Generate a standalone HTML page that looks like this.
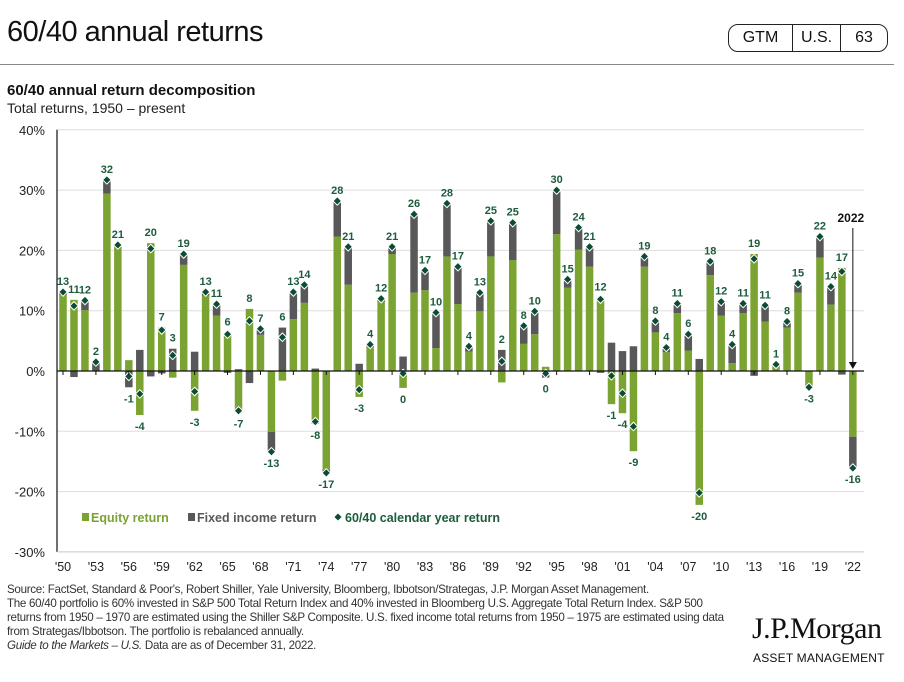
<!DOCTYPE html>
<html><head><meta charset="utf-8"><style>
body{margin:0;width:904px;height:682px;background:#fff;font-family:"Liberation Sans",sans-serif;position:relative;overflow:hidden}
.abs{position:absolute}
</style></head><body>
<div class="abs" style="left:7px;top:16px;font-size:29px;color:#111;letter-spacing:-0.5px">60/40 annual returns</div>
<div class="abs" style="left:728px;top:24px;width:158px;height:26px;border:1px solid #222;border-radius:10px;display:flex;font-size:16px;color:#111">
<div style="width:63px;text-align:center;line-height:26px;border-right:1px solid #222">GTM</div>
<div style="width:47px;text-align:center;line-height:26px;border-right:1px solid #222">U.S.</div>
<div style="flex:1;text-align:center;line-height:26px">63</div></div>
<div class="abs" style="left:0;top:64px;width:894px;height:1px;background:#888"></div>
<div class="abs" style="left:7px;top:82px;font-size:15px;font-weight:bold;color:#111">60/40 annual return decomposition</div>
<div class="abs" style="left:7px;top:100px;font-size:14px;color:#222">Total returns, 1950 – present</div>
<svg class="abs" style="left:0;top:0" width="904" height="682" id="chart"></svg>
<div class="abs" style="left:7px;top:583px;font-size:11.6px;line-height:14px;color:#333;letter-spacing:-0.3px;width:780px;white-space:nowrap">
Source: FactSet, Standard &amp; Poor's, Robert Shiller, Yale University, Bloomberg, Ibbotson/Strategas, J.P. Morgan Asset Management.<br>
The 60/40 portfolio is 60% invested in S&amp;P 500 Total Return Index and 40% invested in Bloomberg U.S. Aggregate Total Return Index. S&amp;P 500<br>
returns from 1950 – 1970 are estimated using the Shiller S&amp;P Composite. U.S. fixed income total returns from 1950 – 1975 are estimated using data<br>
from Strategas/Ibbotson. The portfolio is rebalanced annually.<br>
<i>Guide to the Markets – U.S.</i> Data are as of December 31, 2022.</div>
<div class="abs" style="left:752px;top:612px;font-family:'Liberation Serif',serif;font-size:30px;color:#111;letter-spacing:-0.5px">J.P.Morgan</div>
<div class="abs" style="left:753px;top:651px;font-size:12px;color:#111;letter-spacing:0.2px">ASSET MANAGEMENT</div>
<script>
const years=[1950,1951,1952,1953,1954,1955,1956,1957,1958,1959,1960,1961,1962,1963,1964,1965,1966,1967,1968,1969,1970,1971,1972,1973,1974,1975,1976,1977,1978,1979,1980,1981,1982,1983,1984,1985,1986,1987,1988,1989,1990,1991,1992,1993,1994,1995,1996,1997,1998,1999,2000,2001,2002,2003,2004,2005,2006,2007,2008,2009,2010,2011,2012,2013,2014,2015,2016,2017,2018,2019,2020,2021,2022];
const equity=[12.6,11.8,10.1,0,29.4,20.9,1.8,-7.3,21.2,7.2,-1.1,17.6,-6.6,12.5,9.2,6.4,-6.9,10.3,6.0,-10.1,-1.6,8.6,11.3,-8.8,-16.4,22.3,14.3,-4.3,4.0,11.5,19.4,-2.8,13.0,13.4,3.8,19.0,11.1,3.2,9.9,19.0,-1.9,18.4,4.5,6.1,0.7,22.7,13.8,20.1,17.3,12.2,-5.5,-7.0,-13.3,17.3,6.4,3.1,9.6,3.4,-22.2,15.9,9.2,1.3,9.6,19.4,8.2,0.9,7.2,13.0,-2.7,18.8,11.0,17.1,-10.9];
const fixedIncome=[0.5,-1.0,1.6,1.5,2.3,0,-2.7,3.5,-0.9,-0.4,3.7,1.8,3.2,0.6,1.9,-0.3,0.3,-2.0,1.0,-3.3,7.2,4.5,3.0,0.4,-0.5,5.9,6.3,1.2,0.4,0.5,1.2,2.4,13.0,3.3,5.9,8.8,6.2,0.9,3.1,5.9,3.5,6.2,3.0,3.8,-1.1,7.3,1.4,3.7,3.3,-0.3,4.7,3.3,4.1,1.7,1.9,0.8,1.6,2.7,2.0,2.3,2.3,3.1,1.6,-0.8,2.7,0.2,1.0,1.5,0.0,3.5,3.0,-0.6,-5.2];
const yTicks=[40,30,20,10,0,-10,-20,-30];
const xTickLabels=["'50","'53","'56","'59","'62","'65","'68","'71","'74","'77","'80","'83","'86","'89","'92","'95","'98","'01","'04","'07","'10","'13","'16","'19","'22"];
const NS="http://www.w3.org/2000/svg";
const svg=document.getElementById('chart');
const y0=371,pxPer=6.03,xL=57,xR=864;
const yS=v=>y0-v*pxPer;
const xS=yr=>63+(yr-1950)*10.97;
function mk(t,a,p){const e=document.createElementNS(NS,t);for(const k in a)e.setAttribute(k,a[k]);(p||svg).appendChild(e);return e;}
yTicks.forEach(t=>{
 if(t!==0){const g=mk('line',{x1:xL,x2:xR,y1:yS(t),y2:yS(t),stroke:'#ddd','stroke-width':1});
 
 }
 const l=mk('text',{x:45,y:yS(t)+5,'text-anchor':'end','font-size':13,fill:'#222'});
 l.textContent=t+'%';
 
 
});
years.forEach((yr,i)=>{
 const x=xS(yr),w=7.5,e=equity[i],f=fixedIncome[i];
 let pos=0,neg=0;
 [[e,'#7aa332','equity-bar'],[f,'#58585a','fixed-income-bar']].forEach(([v,c,n])=>{
  if(v===0)return;
  let top,h;
  if(v>0){top=yS(pos+v);h=v*pxPer;pos+=v;}else{top=yS(neg);h=-v*pxPer;neg+=v;}
  const r=mk('rect',{x:x-w/2,y:top,width:w,height:h,fill:c});
  
  
 });
 const tot=e+f;
 const d=mk('rect',{x:x-3,y:yS(tot)-3,width:6,height:6,fill:'#0b4d34',stroke:'#fff','stroke-width':1,transform:`rotate(45 ${x} ${yS(tot)})`});
 
 
 const lbl=mk('text',{x:x,'text-anchor':'middle','font-size':11,'font-weight':'bold',fill:'#1d5c3c'});
 lbl.setAttribute('y',tot>=0?yS(pos)-7:yS(neg)+15);
 lbl.textContent=String(Math.round(tot));
 
 
});
const zl=mk('line',{x1:xL,x2:xR,y1:y0,y2:y0,stroke:'#111','stroke-width':1.2});


const ax=mk('line',{x1:xL,x2:xL,y1:yS(40),y2:yS(-30),stroke:'#111','stroke-width':1.2});


const bx=mk('line',{x1:xL,x2:xR,y1:yS(-30),y2:yS(-30),stroke:'#ccc','stroke-width':1});


xTickLabels.forEach((t,i)=>{
 const x=xS(1950+i*3);
 const tk=mk('line',{x1:x,x2:x,y1:y0,y2:y0+4,stroke:'#111','stroke-width':1});
 
 
 const l=mk('text',{x:x,y:571,'text-anchor':'middle','font-size':12.5,fill:'#222'});
 l.textContent=t;
 
 
});
const ax2=xS(2022);
const an=mk('text',{x:ax2-2,y:222,'text-anchor':'middle','font-size':12,'font-weight':'bold',fill:'#111'});
an.textContent='2022';


const al=mk('line',{x1:ax2,x2:ax2,y1:228,y2:362,stroke:'#111','stroke-width':1});


const ah=mk('polygon',{points:`${ax2-4},362 ${ax2+4},362 ${ax2},369`,fill:'#111'});


const lg=[[82,'#7aa332','Equity return','legend-equity','sq'],[188,'#58585a','Fixed income return','legend-fixed-income','sq'],[338,'#0b4d34','60/40 calendar year return','legend-total','dia']];
lg.forEach(([x,c,t,n,s])=>{
 const g=mk('g',{});
 
 
 if(s==='sq')mk('rect',{x:x,y:513,width:7,height:8,fill:c},g);
 else mk('rect',{x:x-2.5,y:514.5,width:5,height:5,fill:c,transform:`rotate(45 ${x} 517)`},g);
 const tx=mk('text',{x:x+(s==='sq'?9:7),y:522,'font-size':12.5,'font-weight':'bold',fill:s==='dia'?'#1d5c3c':c},g);
 tx.textContent=t;
});
</script>
</body></html>
